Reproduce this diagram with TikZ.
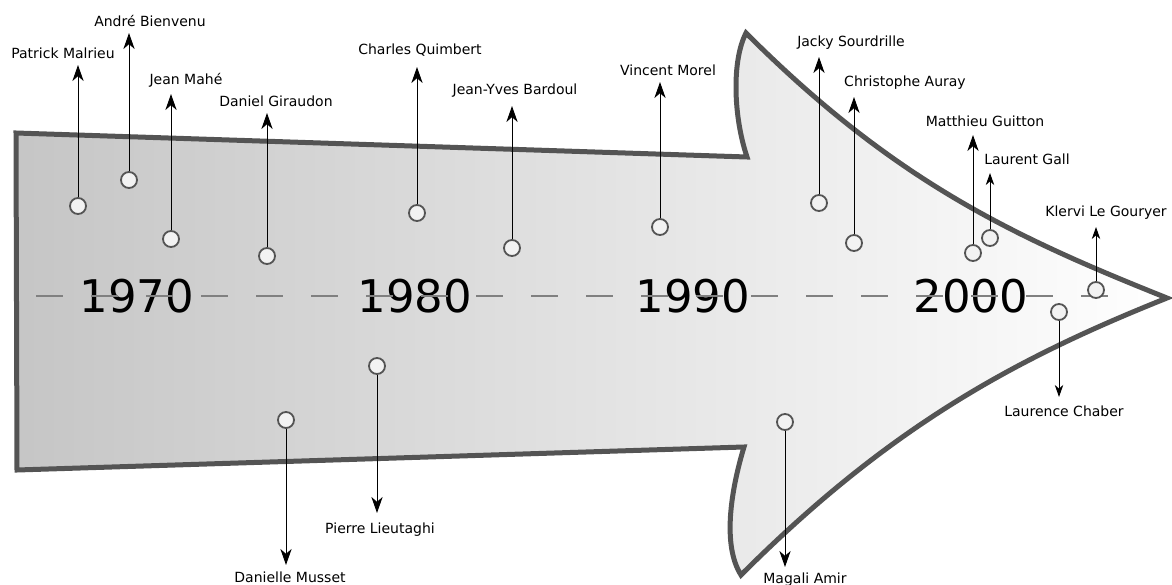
\documentclass[tikz,border=0pt]{standalone}
\usepackage{fontspec}
\setmainfont{DejaVu Sans}
\usepackage{tikz}
\usetikzlibrary{arrows.meta,positioning}
\definecolor{bodyline}{gray}{0.33}
\definecolor{pinfill}{gray}{0.95}

\begin{document}
\begin{tikzpicture}[x=1pt, y=-1pt,
  lbl/.style={inner sep=0pt, anchor=base, font=\fontsize{14}{16}\selectfont},
  year/.style={inner sep=0pt, font=\fontsize{45}{50}\selectfont},
  timeline/.style={gray, line width=1.5pt, dash pattern=on 27pt off 28pt},
  body/.style={draw=bodyline, line width=5pt, left color=gray!45, right color=white}]
\tikzstyle{pin}=[circle, draw=bodyline, fill=pinfill, line width=1.8pt, inner sep=0pt, minimum size=16pt]
\useasboundingbox (0,0) rectangle (1172,585);

% the big arrow
\draw[body] (16,133) -- (747,157) .. controls (733,115) and (732,60) .. (746,33)
  .. controls (896,183) and (1017,238) .. (1167,298)
  .. controls (1017,358) and (891,425) .. (741,575)
  .. controls (722,545) and (731,490) .. (744,447) -- (17,470) -- cycle;

\foreach \yr [count=\k from 0] in {1970,1980,1990,2000}{
\node[year] (y\yr) at (137+278*\k,296) {\yr};
}
\coordinate (tl0) at (36,296);
\coordinate (tl1) at (1113,296);
\draw[timeline] (tl0) -- (tl1);

% x / pin y / tip y / label x / label y / tip length / name
\foreach \x/\y/\ty/\lx/\ly/\al/\name [count=\i] in {
78/206/65/63/59/16/Patrick Malrieu,
129/180/33/150/27/16/André Bienvenu,
171/239/94/186/85/16/Jean Mahé,
267/256/113/276/107/16/Daniel Giraudon,
417/213/67/420/55/16/Charles Quimbert,
512/248/106/515/95/16/Jean-Yves Bardoul,
660/227/82/668/76/16/Vincent Morel,
819/203/57/851/47/16/Jacky Sourdrille,
854/243/97/905/87/16/Christophe Auray,
973/253/135/985/127/16/Matthieu Guitton,
990/238/173/1027/165/12/Laurent Gall,
1096/290/227/1106/217/12/Klervi Le Gouryer,
377/366/513/380/533/16/Pierre Lieutaghi,
286/420/565/290/582/16/Danielle Musset,
785/422/567/805/583/16/Magali Amir,
1059/312/397/1064/416/12/Laurence Chaber}{
\node[pin] (p\i) at (\x,\y) {};
\coordinate (t\i) at (\x,\ty);
\node[lbl] (l\i) at (\lx,\ly) {\name};
\draw[line width=1pt, -{Stealth[length=\al pt, width=0.7*\al pt, inset=0.3*\al pt]}] (p\i) -- (t\i);
}

\end{tikzpicture}
\end{document}
